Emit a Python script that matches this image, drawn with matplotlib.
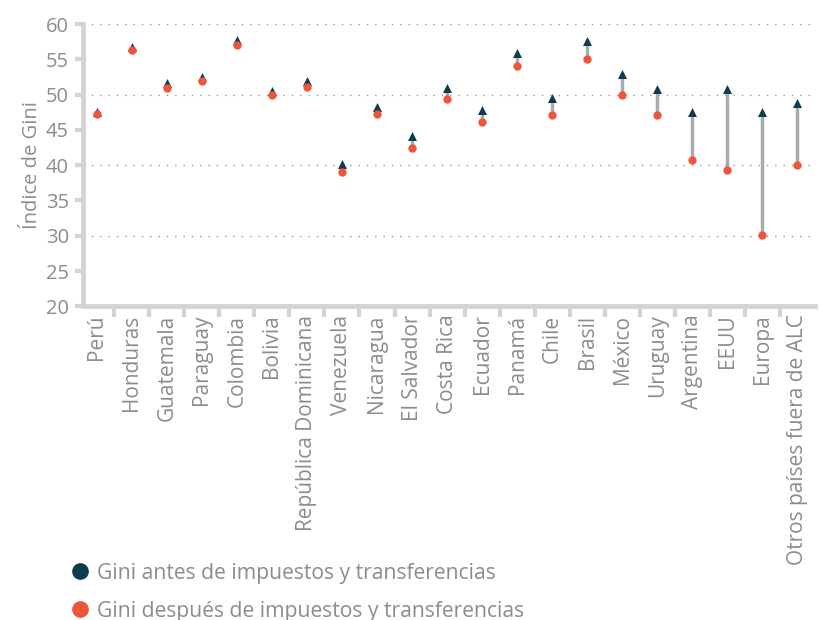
import numpy as np
import matplotlib
matplotlib.use('Agg')
import matplotlib.pyplot as plt
from matplotlib.lines import Line2D

plt.rcParams['font.family'] = ['Open Sans', 'DejaVu Sans']

# -----------------------------
# Data
# -----------------------------
countries = ["Perú", "Honduras", "Guatemala", "Paraguay", "Colombia", "Bolivia",
             "República Dominicana", "Venezuela", "Nicaragua", "El Salvador",
             "Costa Rica", "Ecuador", "Panamá", "Chile", "Brasil", "México",
             "Uruguay", "Argentina", "EEUU", "Europa", "Otros países fuera de ALC"]
gini_before = [47.6, 56.7, 51.6, 52.5, 57.8, 50.5, 51.9, 40.2, 48.3, 44.2,
               51.0, 47.9, 55.9, 49.5, 57.6, 53.0, 50.8, 47.6, 50.8, 47.6, 48.8]
gini_after = [47.2, 56.3, 51.0, 51.9, 57.1, 49.9, 51.1, 39.1, 47.2, 42.5,
              49.4, 46.1, 54.0, 47.1, 55.0, 50.0, 47.1, 40.8, 39.3, 30.1, 40.1]

NAVY = "#0d3b4f"
ORANGE = "#ee553a"
GRAY_LINE = "#a9acae"
SPINE = "#d2d3d5"
TEXT = "#8c8c8c"

fig = plt.figure(figsize=(8.19, 6.2), dpi=100)
ax = fig.add_axes([0.101, 0.506, 0.894, 0.455])

x = np.arange(len(countries))

# connecting lines between before/after values
ax.vlines(x, gini_after, gini_before, color=GRAY_LINE, lw=2.5, zorder=2)
ax.scatter(x, gini_before, marker="^", s=42, color=NAVY, zorder=3, linewidths=0)
ax.scatter(x, gini_after, marker="o", s=36, color=ORANGE, zorder=4, linewidths=0)

ax.set_xlim(-0.4, 20.5)
ax.set_ylim(20, 60)
ax.set_yticks(np.arange(20, 61, 5))
ax.set_xticks(x)
ax.set_xticklabels(countries, rotation=90, color=TEXT, fontsize=15)
ax.set_xticks(np.arange(0.5, 20.5, 1), minor=True)
ax.tick_params(axis="x", which="major", length=0, pad=6)
ax.tick_params(axis="x", which="minor", length=8, width=3, color=SPINE)
ax.tick_params(axis="y", length=6, width=3, color=SPINE, labelcolor=TEXT,
               labelsize=14.5, pad=4)

for yv in [30, 40, 50, 60]:
    ax.axhline(yv, color="#9a9a9a", lw=1, ls=(0, (1, 5)), zorder=1)

for side in ["top", "right"]:
    ax.spines[side].set_visible(False)
for side in ["left", "bottom"]:
    ax.spines[side].set_color(SPINE)
    ax.spines[side].set_linewidth(3.5)

ax.set_ylabel("Índice de Gini", color=TEXT, fontsize=14.5, labelpad=3)

handles = [Line2D([], [], marker="o", ls="", color=NAVY, markersize=11),
           Line2D([], [], marker="o", ls="", color=ORANGE, markersize=11)]
fig.legend(handles, ["Gini antes de impuestos y transferencias",
                     "Gini después de impuestos y transferencias"],
           loc="upper left", bbox_to_anchor=(0.075, 0.106), frameon=False,
           fontsize=15.2, labelcolor=TEXT, handletextpad=0.3,
           handlelength=1.0, labelspacing=0.8, borderaxespad=0)

plt.savefig("out.png", dpi=100)
plt.close()
